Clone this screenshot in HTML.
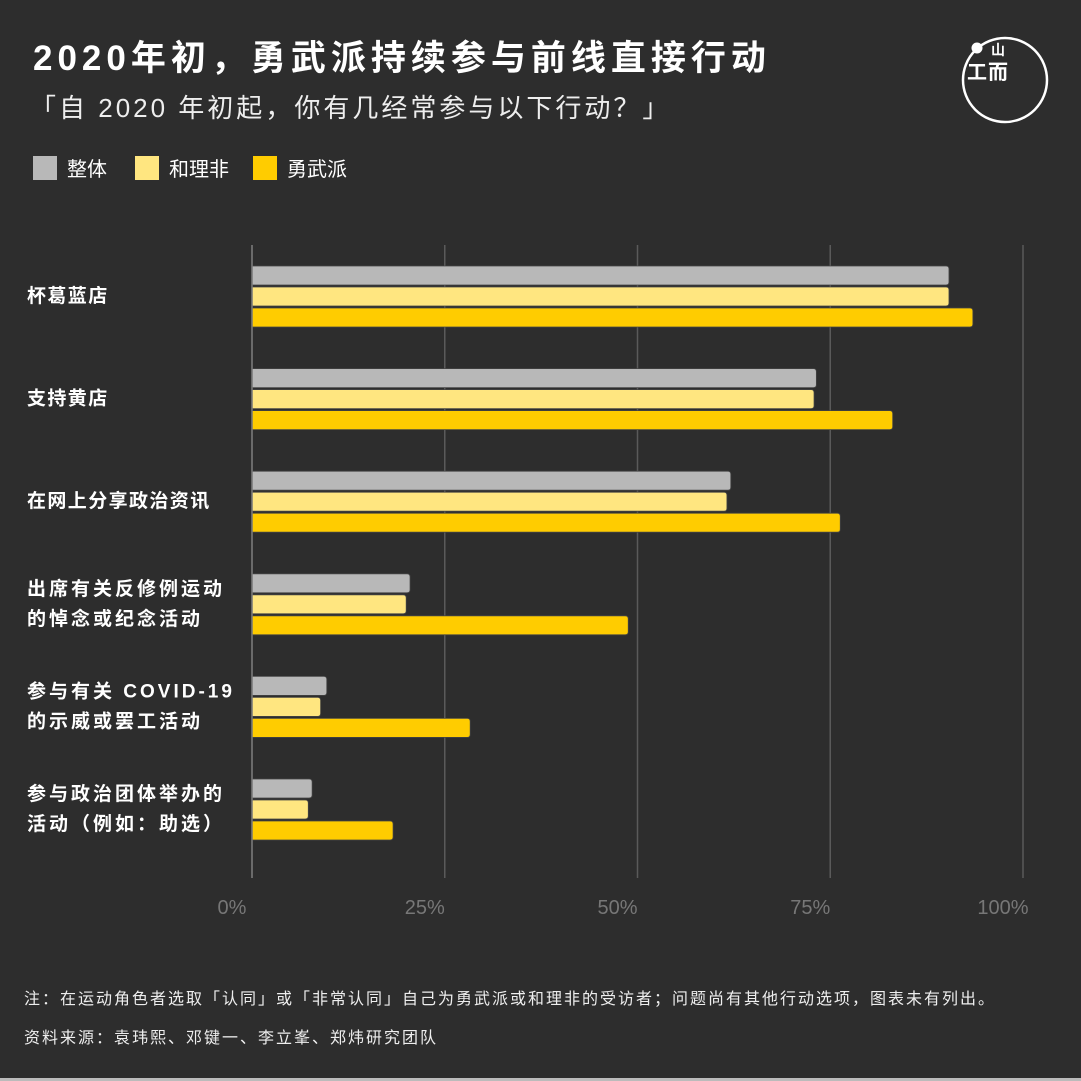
<!DOCTYPE html>
<html><head><meta charset="utf-8">
<style>
body{margin:0;background:#2d2d2d;}
#root{position:relative;width:1081px;height:1081px;background:#2d2d2d;overflow:hidden;font-family:"Liberation Sans","Noto Sans CJK SC",sans-serif;color:#fff;}
.abs{position:absolute;white-space:nowrap;}
.cj{font-family:"Noto Sans CJK SC",sans-serif;}
</style></head><body>
<div id="root">
<div class="abs" style="left:33px;top:30px;font-size:35px;font-weight:bold;letter-spacing:5px;">2020年初<span class="cj">，</span>勇武派持续参与前线直接行动</div>
<div class="abs" style="left:30px;top:88px;font-size:26px;color:#eee;letter-spacing:3px;"><span class="cj">「</span>自 2020 年初起<span class="cj">，</span>你有几经常参与以下行动<span class="cj">？」</span></div>
<svg class="abs" style="left:955px;top:30px" width="100" height="100" viewBox="0 0 100 100">
<circle cx="50" cy="50" r="42" fill="none" stroke="#fff" stroke-width="2.5"/>
<circle cx="22" cy="18" r="5.5" fill="#fff"/>
<text x="43" y="25" text-anchor="middle" font-size="14" font-weight="bold" fill="#fff" font-family="Noto Sans CJK SC,sans-serif">山</text>
<text x="22" y="49" text-anchor="middle" font-size="20" font-weight="bold" fill="#fff" font-family="Noto Sans CJK SC,sans-serif">工</text>
<text x="43" y="49" text-anchor="middle" font-size="20" font-weight="bold" fill="#fff" font-family="Noto Sans CJK SC,sans-serif">而</text>
</svg>
<div class="abs" style="left:33px;top:153px;"><span style="display:inline-block;width:24px;height:24px;background:#b8b8b8;vertical-align:middle;"></span><span style="font-size:20px;margin-left:10px;vertical-align:middle;">整体</span></div>
<div class="abs" style="left:135px;top:153px;"><span style="display:inline-block;width:24px;height:24px;background:#ffe680;vertical-align:middle;"></span><span style="font-size:20px;margin-left:10px;vertical-align:middle;">和理非</span></div>
<div class="abs" style="left:253px;top:153px;"><span style="display:inline-block;width:24px;height:24px;background:#ffcc00;vertical-align:middle;"></span><span style="font-size:20px;margin-left:10px;vertical-align:middle;">勇武派</span></div>
<svg id="plot" class="abs" style="left:0;top:0" width="1081" height="1081"></svg>
<div class="abs cj" style="left:24px;top:985px;font-size:16px;letter-spacing:2px;color:#eee;">注：在运动角色者选取「认同」或「非常认同」自己为勇武派或和理非的受访者；问题尚有其他行动选项，图表未有列出。</div>
<div class="abs cj" style="left:24px;top:1024px;font-size:16px;letter-spacing:2px;color:#eee;">资料来源：袁玮熙、邓键一、李立峯、郑炜研究团队</div>
<div class="abs" style="left:0;top:1078px;width:1081px;height:3px;background:#bbb;"></div>
</div>
<script>
const categories=[["杯葛蓝店"],["支持黄店"],["在网上分享政治资讯"],["出席有关反修例运动","的悼念或纪念活动"],["参与有关 COVID-19","的示威或罢工活动"],["参与政治团体举办的","活动（例如：助选）"]];
const overall=[90.4,73.2,62.1,20.5,9.7,7.8];
const moderate=[90.4,72.9,61.6,20.0,8.9,7.3];
const militant=[93.5,83.1,76.3,48.8,28.3,18.3];
const ticks=[0,25,50,75,100];
const tickLabels=["0%","25%","50%","75%","100%"];
const NS="http://www.w3.org/2000/svg";
const svg=document.getElementById('plot');
const x0=252,x1=1023;
const xs=v=>x0+(x1-x0)*v/100;
const groupY=i=>266+i*102.6;
function mk(t,a){const e=document.createElementNS(NS,t);for(const k in a)e.setAttribute(k,a[k]);svg.appendChild(e);return e;}
ticks.forEach((t,i)=>{
  const l=mk('line',{x1:xs(t),x2:xs(t),y1:245,y2:878,stroke:'#5a5a5a','stroke-width':1.5});
  
  
  const tx=mk('text',{x:xs(t)-20,y:914,'text-anchor':'middle','font-size':20,fill:'#777','font-family':'Liberation Sans,sans-serif'});
  tx.textContent=tickLabels[i];
  
  
});
const series=[[overall,'#b8b8b8','overall'],[moderate,'#ffe680','moderate'],[militant,'#ffcc00','militant']];
categories.forEach((c,i)=>{
  const gy=groupY(i);
  series.forEach(([arr,col,nm],j)=>{
    const y=gy+j*21, w=xs(arr[i])-x0;
    const p=mk('path',{d:`M${x0},${y}h${w-3}q3,0 3,3v13q0,3 -3,3h${-(w-3)}z`,fill:col,stroke:'#444','stroke-width':0.8});
    
    
  });
  const cy=gy+29;
  const n=c.length;
  c.forEach((line,k)=>{
    const t=mk('text',{x:27,y:cy+7+(k-(n-1)/2)*30,'font-size':19,'font-weight':'bold',fill:'#fff','font-family':'Liberation Sans,Noto Sans CJK SC,sans-serif','letter-spacing':n>1?'3':'1.4'});
    t.textContent=line;
    
    
  });
});
mk('line',{x1:x0,x2:x0,y1:245,y2:878,stroke:'#777','stroke-width':1.5});
</script>
</body></html>
